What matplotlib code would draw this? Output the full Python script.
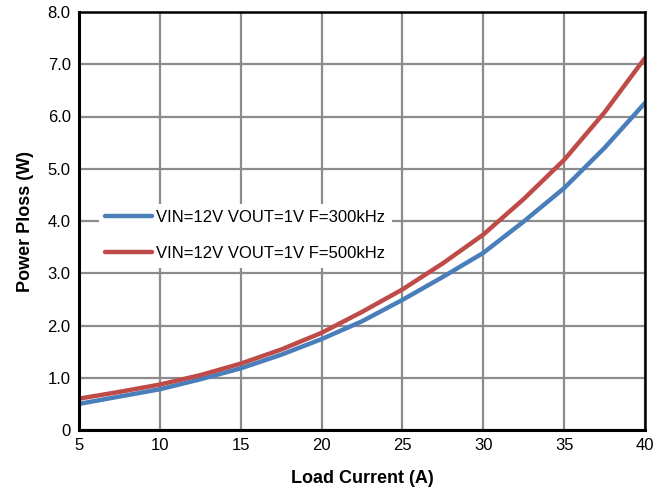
import matplotlib
matplotlib.use("Agg")
import matplotlib.pyplot as plt

plt.rcParams['font.family'] = ['Liberation Sans', 'DejaVu Sans']

current = [5, 7.5, 10, 12.5, 15, 17.5, 20, 22.5, 25, 27.5, 30, 32.5, 35, 37.5, 40]
loss_300k = [0.50, 0.64, 0.78, 0.97, 1.18, 1.44, 1.74, 2.08, 2.49, 2.93, 3.39, 3.99, 4.63, 5.40, 6.26]
loss_500k = [0.60, 0.73, 0.87, 1.05, 1.27, 1.54, 1.86, 2.26, 2.69, 3.19, 3.74, 4.42, 5.17, 6.08, 7.12]
label_300k = "VIN=12V VOUT=1V F=300kHz"
label_500k = "VIN=12V VOUT=1V F=500kHz"
xticks = [5, 10, 15, 20, 25, 30, 35, 40]
yticks = [0, 1, 2, 3, 4, 5, 6, 7, 8]
ytick_labels = ["0", "1.0", "2.0", "3.0", "4.0", "5.0", "6.0", "7.0", "8.0"]

W, H = 667, 493
fig = plt.figure(figsize=(W / 100, H / 100), dpi=100)
ax = fig.add_axes([79 / W, 1 - 430 / H, (645 - 79) / W, (430 - 12) / H])

ax.plot(current, loss_300k, color='#4A7EBB', lw=3.2, solid_capstyle='round', label=label_300k, zorder=3)
ax.plot(current, loss_500k, color='#BE4B48', lw=3.2, solid_capstyle='round', label=label_500k, zorder=3)

ax.set_xlim(5, 40)
ax.set_ylim(0, 8)
ax.set_xticks(xticks)
ax.set_yticks(yticks)
ax.set_yticklabels(ytick_labels)
ax.tick_params(axis='both', length=0, labelsize=12, pad=6)
ax.grid(True, color='#8C8C8C', lw=1.6)
ax.set_axisbelow(True)
for side in ['left', 'bottom']:
    ax.spines[side].set_linewidth(2.2)
for side in ['top', 'right']:
    ax.spines[side].set_linewidth(1.8)
for s in ax.spines.values():
    s.set_color('black')
    s.set_zorder(4)

ax.set_xlabel('Load Current (A)', fontsize=13, fontweight='bold', labelpad=12)
ax.set_ylabel('Power Ploss (W)', fontsize=13, fontweight='bold', labelpad=10)

leg = ax.legend(loc='center left', bbox_to_anchor=(0.035, 0.465), frameon=True,
                facecolor='white', edgecolor='none', framealpha=1, fancybox=False,
                fontsize=12, handlelength=2.8, handletextpad=0.25, labelspacing=1.25,
                borderpad=0.4, borderaxespad=0)
leg.set_zorder(5)

fig.savefig('out.png', dpi=100)
